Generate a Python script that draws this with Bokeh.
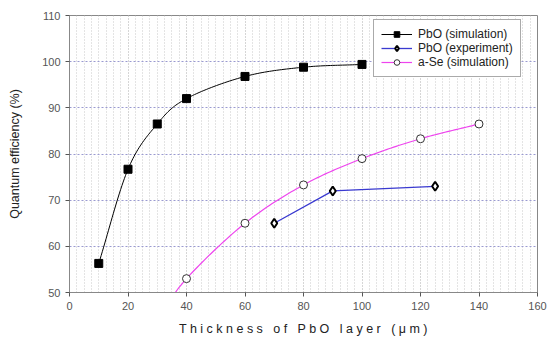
import numpy as np
from bokeh.plotting import figure
from bokeh.models import Range1d, SingleIntervalTicker, Legend, LegendItem
from bokeh.embed import file_html
from bokeh.resources import INLINE

# data
pbo_sim_x = [10, 20, 30, 40, 60, 80, 100]
pbo_sim_y = [56.3, 76.7, 86.5, 92.0, 96.8, 98.8, 99.4]
pbo_exp_x = [70, 90, 125]
pbo_exp_y = [65.0, 72.0, 73.0]
ase_x = [30, 40, 60, 80, 100, 120, 140]
ase_y = [44.0, 53.0, 65.0, 73.3, 79.0, 83.3, 86.5]

FONT = "Liberation Sans"
NB = "\u00a0"


def spaced(s):
    words = s.split(" ")
    return (NB * 3).join(" ".join(w) for w in words)


def smooth(xs, ys, n=24):
    """Catmull-Rom spline through the given points (line rendering only)."""
    xs = np.asarray(xs, float)
    ys = np.asarray(ys, float)
    px = np.concatenate([[2 * xs[0] - xs[1]], xs, [2 * xs[-1] - xs[-2]]])
    py = np.concatenate([[2 * ys[0] - ys[1]], ys, [2 * ys[-1] - ys[-2]]])
    ox, oy = [], []
    for i in range(1, len(px) - 2):
        t = np.linspace(0, 1, n, endpoint=False)
        for arr, out in ((px, ox), (py, oy)):
            p0, p1, p2, p3 = arr[i - 1], arr[i], arr[i + 1], arr[i + 2]
            out.extend(0.5 * ((2 * p1) + (-p0 + p2) * t
                              + (2 * p0 - 5 * p1 + 4 * p2 - p3) * t ** 2
                              + (-p0 + 3 * p1 - 3 * p2 + p3) * t ** 3))
    ox.append(xs[-1])
    oy.append(ys[-1])
    return ox, oy


p = figure(width=547, height=341, output_backend="svg", toolbar_location=None,
           x_range=Range1d(0, 160), y_range=Range1d(50, 110),
           min_border_left=69, min_border_right=10, min_border_top=15,
           min_border_bottom=49)
p.background_fill_color = "white"
p.border_fill_color = "white"
p.outline_line_color = "#888888"
p.outline_line_width = 1

p.xaxis.ticker = SingleIntervalTicker(interval=20, num_minor_ticks=8)
p.yaxis.ticker = SingleIntervalTicker(interval=10, num_minor_ticks=0)

p.xgrid.grid_line_color = "#c8c8c8"
p.xgrid.grid_line_dash = "1 2"
p.xgrid.minor_grid_line_color = "#c8c8c8"
p.xgrid.minor_grid_line_dash = "1 2"
p.ygrid.grid_line_color = "#9a9ad0"
p.ygrid.grid_line_dash = "2 2"

for ax in (p.xaxis[0], p.yaxis[0]):
    ax.axis_line_color = "#888888"
    ax.major_tick_line_color = "#555555"
    ax.major_tick_in = 0
    ax.major_tick_out = 4
    ax.minor_tick_line_color = None
    ax.major_label_text_font = FONT
    ax.major_label_text_font_size = "11px"
    ax.major_label_text_color = "#555555"
    ax.axis_label_text_font = FONT
    ax.axis_label_text_font_size = "12.5px"
    ax.axis_label_text_font_style = "normal"
    ax.axis_label_text_color = "#222222"

p.xaxis.axis_label = spaced("Thickness of PbO layer (μm)")
p.xaxis.axis_label_standoff = 9
p.xaxis.major_label_standoff = 5
p.yaxis.axis_label = "Quantum efficiency (%)"
p.yaxis.axis_label_standoff = 17
p.yaxis.major_label_standoff = 5

sx, sy = smooth(pbo_sim_x, pbo_sim_y)
l1 = p.line(sx, sy, line_color="black", line_width=1)
m1 = p.scatter(pbo_sim_x, pbo_sim_y, marker="square", size=8,
               fill_color="black", line_color="black")

l2 = p.line(pbo_exp_x, pbo_exp_y, line_color="#3a3ad0", line_width=1.3)
m2 = p.scatter(pbo_exp_x, pbo_exp_y, marker="diamond", size=9,
               fill_color="white", line_color="black", line_width=2)

ax_, ay_ = smooth(ase_x, ase_y)
l3 = p.line(ax_, ay_, line_color="#ee44ee", line_width=1.2)
m3 = p.scatter(ase_x, ase_y, marker="circle", size=8,
               fill_color="white", line_color="#333333", line_width=1)

legend = Legend(items=[
    LegendItem(label="PbO (simulation)", renderers=[l1, m1]),
    LegendItem(label="PbO (experiment)", renderers=[l2, m2]),
    LegendItem(label="a-Se (simulation)", renderers=[l3, m3]),
], location=(304, 215))
legend.margin = 0
legend.padding = 7
legend.spacing = 0
legend.label_text_font = FONT
legend.label_text_font_size = "12px"
legend.label_text_color = "#222222"
legend.label_height = 14
legend.glyph_height = 14
legend.glyph_width = 31
legend.label_standoff = 6
legend.border_line_color = "#555555"
legend.border_line_width = 1
legend.background_fill_alpha = 1
p.add_layout(legend)

open("out.html", "w").write(file_html(p, INLINE))
